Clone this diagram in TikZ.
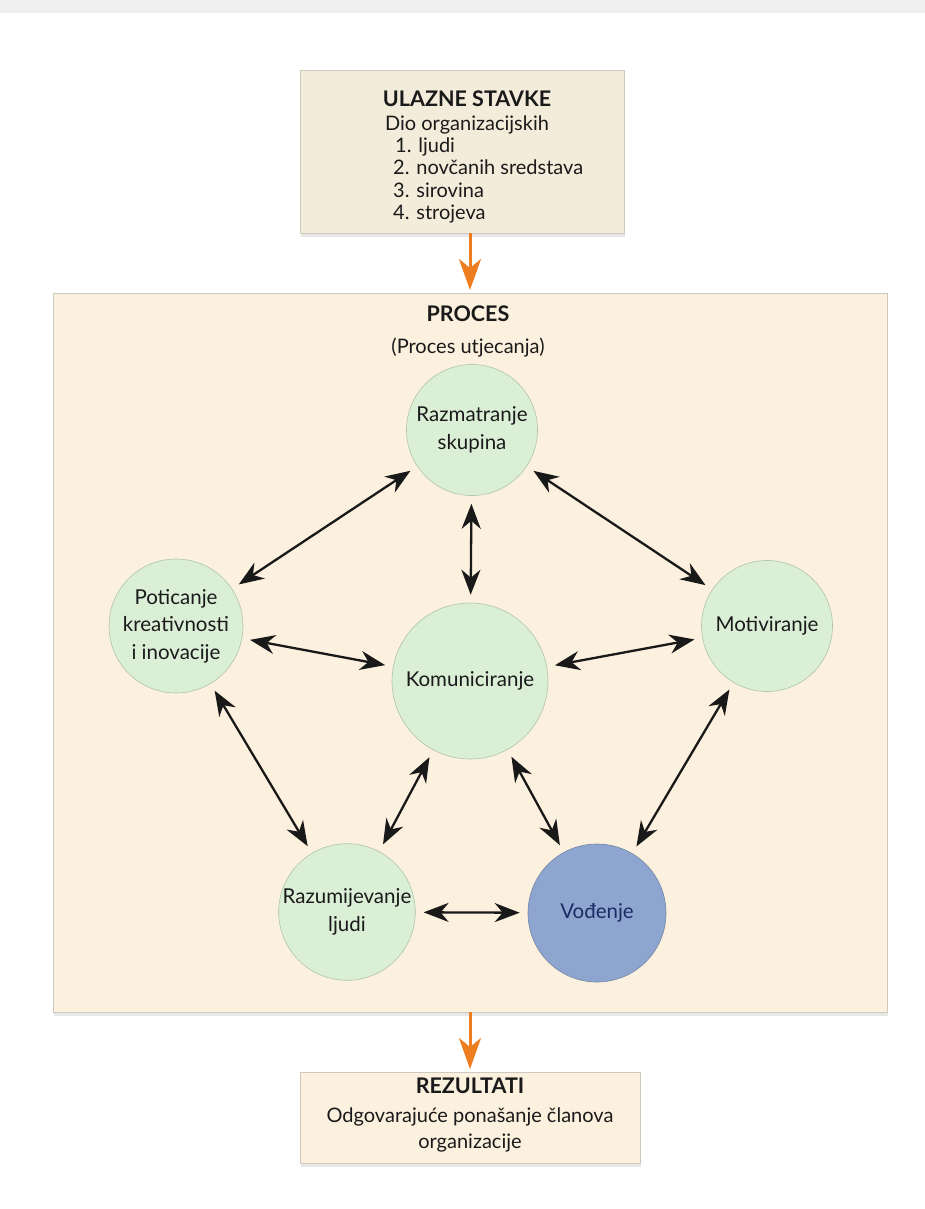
\documentclass[tikz,border=0pt]{standalone}
\usepackage{fontspec}
\setmainfont{Lato}
\usetikzlibrary{arrows.meta,shadows}
\definecolor{boxfill}{HTML}{FBF1DE}
\definecolor{topfill}{HTML}{F4ECDA}
\definecolor{boxedge}{HTML}{CFC8BC}
\definecolor{circfill}{HTML}{DBEFD7}
\definecolor{circdraw}{HTML}{AFC4A8}
\definecolor{vodfill}{HTML}{8EA6CF}
\definecolor{vodtext}{HTML}{1E2A66}
\definecolor{orangearr}{HTML}{EE7D1F}
\definecolor{txt}{HTML}{1A1A1A}
\tikzset{
  panel/.style={draw=boxedge, line width=0.8pt, drop shadow={shadow xshift=1pt, shadow yshift=-4pt, opacity=0.18}},
  bubble/.style={circle, draw=circdraw, line width=0.6pt, fill=circfill, text=txt, align=center,
     font=\fontsize{20.5}{27.5}\selectfont, inner sep=0pt},
  boxtxt/.style={text=txt, font=\fontsize{20}{22}\selectfont, inner sep=0pt},
  boxtitle/.style={text=txt, font=\fontsize{21.5}{22}\selectfont\bfseries, inner sep=0pt},
  link/.style={black!90, line width=2.3pt, {Stealth[length=25pt,width=19pt,inset=8pt]}-{Stealth[length=25pt,width=19pt,inset=8pt]}, shorten <=8pt, shorten >=8pt},
  flow/.style={orangearr, line width=3pt, -{Stealth[length=31pt,width=22pt,inset=9pt]}}
}
\begin{document}
\begin{tikzpicture}[x=1pt,y=-1pt]
\useasboundingbox (0,0) rectangle (925,1209);
\fill[white] (0,0) rectangle (925,1209);
\fill[black!6] (0,0) rectangle (925,13);

% boxes
\node[panel, fill=topfill, minimum width=324pt, minimum height=163pt] (inbox) at (462,151.5) {};
\node[panel, fill=boxfill, minimum width=834pt, minimum height=719pt] (procbox) at (470,652.5) {};
\node[panel, fill=boxfill, minimum width=340pt, minimum height=91pt] (outbox) at (470,1117.5) {};

% top box text
\node[boxtitle, anchor=base] (t1) at (467,107) {ULAZNE STAVKE};
\node[boxtxt, anchor=base] (t2) at (467,131) {Dio organizacijskih};
\node[boxtxt, anchor=base west] (t3) at (395,153) {1. ljudi};
\node[boxtxt, anchor=base west] (t4) at (393,175) {2. novčanih sredstava};
\node[boxtxt, anchor=base west] (t5) at (393,197) {3. sirovina};
\node[boxtxt, anchor=base west] (t6) at (393,219) {4. strojeva};

% process title
\node[boxtitle, anchor=base] (p1) at (468,321) {PROCES};
\node[boxtxt, anchor=base] (p2) at (468,353) {(Proces utjecanja)};

% circles
\node[bubble, minimum size=131pt] (raz) at (472,430) {Razmatranje\\skupina};
\node[bubble, minimum size=134pt] (pot) at (176,626) {Poticanje\\kreativnosti\\i inovacije};
\node[bubble, minimum size=131pt] (mot) at (767,626) {Motiviranje};
\node[bubble, minimum size=156pt] (kom) at (470,681) {Komuniciranje};
\node[bubble, minimum size=131pt] (rlj) at (347,912) {Razumijevanje\\ljudi};
\node[bubble, minimum size=138pt, fill=vodfill, draw=vodfill!80!black, text=vodtext] (vod) at (597,913) {Vođenje};

% links
\draw[link] (raz) -- (pot);
\draw[link] (raz) -- (mot);
\draw[link] (raz) -- (kom);
\draw[link] (pot) -- (kom);
\draw[link] (mot) -- (kom);
\draw[link] (pot) -- (rlj);
\draw[link] (mot) -- (vod);
\draw[link] (kom) -- (rlj);
\draw[link] (kom) -- (vod);
\draw[link] (rlj) -- (vod);

% bottom text
\node[boxtitle, anchor=base] (r1) at (470,1093) {REZULTATI};
\node[boxtxt, anchor=base] (r2) at (470,1122) {Odgovarajuće ponašanje članova};
\node[boxtxt, anchor=base] (r3) at (470,1148) {organizacije};

% flow arrows
\coordinate (a1) at (470,290);
\coordinate (a2) at (470,1069);
\draw[flow] (inbox.south -| a1) -- (a1);
\draw[flow] (procbox.south -| a2) -- (a2);
\end{tikzpicture}
\end{document}
